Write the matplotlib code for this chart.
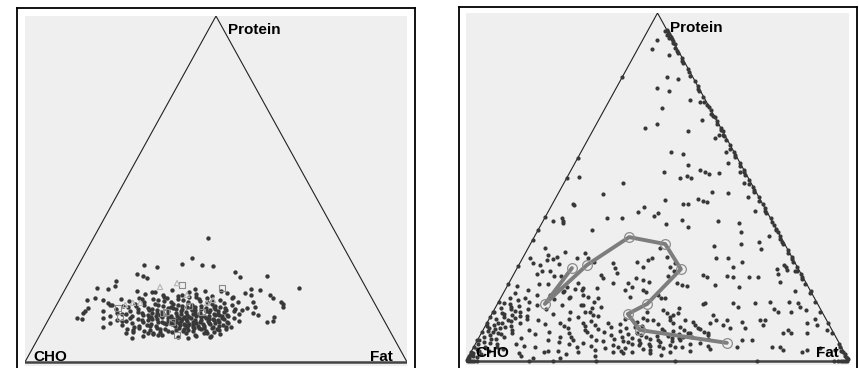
import numpy as np
import matplotlib.pyplot as plt

plt.rcParams['font.family'] = ['Liberation Sans', 'DejaVu Sans']

# ---------- left panel: meal compositions (protein %, fat %), CHO = rest ----------
left_pts = [
    # sparse outer points
    (35.8, 30.0), (30.1, 28.6), (28.0, 17.2), (27.5, 20.8), (28.3, 27.0), (28.0, 32.3),
    (27.7, 35.4), (25.4, 16.6), (24.9, 18.4), (24.3, 19.8), (26.0, 42.0), (24.6, 44.0),
    (24.9, 50.9), (21.4, 61.0), (23.4, 12.1), (22.0, 12.6), (21.4, 8.1), (21.1, 11.2),
    (18.5, 9.1), (17.9, 11.5), (17.1, 13.2), (16.5, 14.0), (17.9, 7.3), (15.6, 8.7),
    (14.7, 8.4), (14.2, 8.1), (12.7, 7.3), (12.4, 8.7), (10.1, 15.4), (6.9, 24.6),
    (8.4, 22.2), (9.2, 23.7), (8.4, 28.0), (8.4, 29.3), (6.9, 39.3), (7.2, 44.8),
    (20.8, 51.1), (21.1, 48.6), (19.4, 49.5), (19.9, 47.6), (19.4, 54.4), (18.5, 55.7),
    (17.3, 58.4), (16.8, 59.1), (15.9, 59.6), (13.0, 58.7), (11.8, 59.0), (11.6, 57.6),
    (13.6, 54.2), (14.2, 52.6), (17.3, 51.0), (15.9, 52.3), (15.6, 50.3), (15.0, 49.3),
    # band above the core
    (20.5, 19), (19.8, 21.5), (20.2, 24), (19.5, 26.5), (20.8, 28), (19.2, 30.5),
    (20.1, 33), (19.6, 35), (20.4, 37), (19.1, 39.5), (20.6, 41), (19.9, 43),
    (18.8, 45), (20.3, 23), (19.4, 31.5), (21.2, 34), (18.9, 27),
    (18.2, 16), (17.6, 18.5), (18.5, 20.5), (17.3, 22.5), (18.1, 24.5), (17.8, 26),
    (18.6, 28), (17.4, 29.5), (18.3, 31), (17.9, 32.5), (17.2, 34), (18.7, 35.5),
    (17.5, 37), (18.4, 38.5), (17.7, 40), (18.0, 42), (17.1, 43.5), (18.6, 45),
    (17.3, 47), (18.2, 21.5), (17.6, 27.5), (18.9, 33.5), (17.4, 39), (18.1, 36.5),
    # dense core
    (16.6, 14.5), (15.4, 16), (16.2, 17.5), (15.8, 19), (16.8, 20.5), (15.2, 22),
    (16.4, 23), (15.6, 24.5), (16.9, 25.5), (15.1, 27), (16.3, 28), (15.7, 29.5),
    (16.7, 30.5), (15.3, 32), (16.1, 33), (15.9, 34.5), (16.5, 35.5), (15.0, 37),
    (16.2, 38), (15.6, 39.5), (16.8, 40.5), (15.4, 42), (16.0, 43), (15.7, 44.5),
    (16.4, 46), (15.2, 47.5), (16.6, 26.5), (15.5, 31), (16.0, 36.5), (15.8, 41.5),
    (16.3, 21), (15.1, 45),
    (14.6, 13), (13.4, 15.5), (14.2, 17), (13.8, 18.5), (14.8, 20), (13.2, 21.5),
    (14.4, 22.5), (13.6, 24), (14.9, 25), (13.1, 26.5), (14.3, 27.5), (13.7, 29),
    (14.7, 30), (13.3, 31.5), (14.1, 32.5), (13.9, 34), (14.5, 35), (13.0, 36.5),
    (14.2, 37.5), (13.6, 39), (14.8, 40), (13.4, 41.5), (14.0, 42.5), (13.7, 44),
    (14.4, 45), (13.2, 46.5), (14.6, 47.5), (13.8, 49), (14.1, 23.5), (13.5, 28.5),
    (14.7, 33.5), (13.3, 38), (14.0, 43.5), (13.9, 19.5), (14.3, 26), (13.1, 35),
    (14.5, 41), (13.6, 46),
    (12.6, 14), (11.4, 16.5), (12.2, 18), (11.8, 19.5), (12.8, 21), (11.2, 22.5),
    (12.4, 23.5), (11.6, 25), (12.9, 26), (11.1, 27.5), (12.3, 28.5), (11.7, 30),
    (12.7, 31), (11.3, 32.5), (12.1, 33.5), (11.9, 35), (12.5, 36), (11.0, 37.5),
    (12.2, 38.5), (11.6, 40), (12.8, 41), (11.4, 42.5), (12.0, 43.5), (11.7, 45),
    (12.4, 46), (11.2, 47.5), (12.6, 48.5), (11.8, 50), (12.1, 24.5), (11.5, 29),
    (12.7, 34), (11.3, 39), (12.0, 44.5), (11.9, 20.5), (12.3, 27), (11.1, 36),
    (12.5, 42), (11.6, 47), (12.9, 31.5), (11.4, 34.5), (12.2, 40),
    (10.6, 20), (9.4, 22), (10.2, 23.5), (9.8, 25), (10.8, 26.5), (9.2, 28),
    (10.4, 29), (9.6, 30.5), (10.9, 31.5), (9.1, 33), (10.3, 34), (9.7, 35.5),
    (10.7, 36.5), (9.3, 38), (10.1, 39), (9.9, 40.5), (10.5, 41.5), (9.0, 43),
    (10.2, 44), (9.6, 45.5), (10.8, 46.5), (9.4, 48), (10.0, 49), (10.4, 27.5),
    (9.5, 32), (10.6, 37.5), (9.8, 42), (10.1, 47.5), (9.3, 35), (10.5, 24.5),
    (8.6, 24), (7.6, 27), (8.2, 29.5), (7.8, 32), (8.8, 34), (7.2, 36.5),
    (8.4, 38), (7.9, 40.5), (8.5, 42.5), (7.4, 45), (8.1, 47), (7.7, 31),
    (8.3, 43.5), (8.9, 37), (7.5, 41),
    # extra points filling the darkest part of the core
    (15.9, 30.2), (15.2, 33.6), (14.9, 36.3), (15.4, 38.4), (15.0, 40.9), (14.8, 43.2),
    (13.8, 30.4), (13.3, 33.1), (13.6, 35.6), (13.9, 37.0), (13.2, 40.2), (13.5, 42.9),
    (12.9, 29.4), (12.5, 32.6), (12.8, 37.1), (12.9, 39.6), (12.3, 43.0), (12.7, 45.2),
    (11.9, 31.4), (11.5, 33.8), (11.8, 36.6), (11.6, 38.2), (11.1, 41.1), (11.9, 42.0),
    (10.9, 33.0), (10.6, 35.2), (10.8, 38.6), (10.3, 40.1), (10.9, 43.1), (10.4, 45.6),
    (9.9, 29.6), (9.5, 36.9), (9.9, 39.4), (9.4, 41.3), (9.7, 44.1), (9.2, 46.3),
    (14.4, 28.7), (13.2, 27.8), (12.0, 26.3), (11.2, 30.8), (16.4, 31.8), (16.2, 41.6),
    (8.7, 31.0), (8.9, 39.4), (8.6, 45.2), (9.1, 26.6), (15.6, 35.6), (14.2, 38.8),
    (12.4, 35.0), (13.4, 44.9), (11.4, 44.0), (10.2, 37.3), (13.7, 25.3), (15.3, 25.6),
]
left_squares = [(13.0, 18.4), (14.2, 29.0), (11.6, 32.7), (7.8, 35.9), (16.2, 34.8),
                (14.5, 39.1), (21.4, 40.9), (22.3, 30.0), (15.6, 16.5), (14.5, 29.7)]
left_triangles = [(21.7, 24.5), (22.8, 28.4), (17.1, 19.7), (17.1, 21.6), (17.1, 39.1),
                  (19.4, 32.7), (17.9, 40.3), (16.5, 18.0)]

# ---------- right panel ----------
right_edge = [  # points on the protein-fat side (almost no CHO)
    (95, 5), (94.5, 5.5), (94, 6), (93.5, 6.5), (93, 7), (92.5, 7.5), (92, 8), (91, 9),
    (90, 9.5), (88.5, 11), (87, 13), (85.5, 14), (84, 16), (82, 17.5), (80.5, 19.5),
    (79, 21), (77.5, 22), (76, 24), (74.5, 25), (73, 27), (72, 28), (71, 28.5), (70, 30),
    (69, 31), (68, 31.5), (67, 33), (66, 34), (65, 34.5), (63.5, 36), (62, 38),
    (61, 38.5), (60, 40), (58.5, 41), (57, 43), (56, 43.5), (55, 45), (53.5, 46),
    (52, 48), (51, 48.5), (50, 50), (48.5, 51), (47, 53), (46, 53.5), (45, 55),
    (44, 56), (42.5, 57), (41, 59), (40, 60), (39, 61), (38, 62), (37, 63), (36, 64),
    (35, 64.5), (33.5, 66), (32, 68), (31, 68.5), (30, 70), (28.5, 71), (27, 73),
    (26, 73.5), (25, 75), (23.5, 76), (22, 77.5), (20, 80), (17, 82.5), (14, 85.5),
    (11, 89), (8, 91.5), (5, 95), (3, 96.5), (2, 98), (1, 99), (0.5, 99.5),
    (88, 9), (75, 21), (64, 33), (57, 40), (47, 50), (43, 54), (36, 61), (27, 70),
    (20, 76), (12, 85),
    (94.8, 4.6), (93.8, 5.7), (92.8, 6.6), (91.5, 8.2), (89.2, 10.5), (86.2, 13.4),
    (83, 16.7), (78.2, 21.4), (73.6, 26.1), (70.5, 29.2), (66.5, 33.2), (64.6, 35.1),
    (59.2, 40.5), (54.2, 45.5), (49.2, 50.5), (43.2, 56.5), (37.5, 62.2), (34.2, 65.5),
    (29.2, 70.5), (24.2, 75.5), (1.5, 98.3), (0.8, 99.0), (2.5, 97.2), (4, 95.6),
]
left_edge_protein = [81.6, 58.3, 52.6, 41.4, 37.6, 34.8, 27.3, 22.1, 17, 14, 12.6,
                     10.9, 8.3, 6, 4, 2.6, 1.5, 0.8, 0.3]
bottom_edge_fat = [16.4, 22.7, 33.9, 54.6, 76, 96, 97, 98, 98.5, 99, 99.5,
                   0.5, 1, 1.5, 2, 3]
right_pts = [
    # upper interior
    (92.3, 3.8), (89.7, 3.7), (81.6, 11.7), (81.0, 14.9), (78.5, 10.6), (77.6, 14.2),
    (72.7, 14.8), (67.0, 13.2), (68.1, 15.8), (66.1, 25.0), (74.4, 23.9), (69.3, 27.0),
    (65.0, 33.6), (60.1, 37.8), (60.1, 23.5), (59.5, 27.0), (56.3, 29.8), (54.3, 24.6),
    (52.6, 29.6), (53.2, 31.1), (52.6, 32.4), (54.9, 33.7), (54.3, 35.3), (53.7, 36.6),
    (54.0, 39.1), (54.3, 44.4), (51.2, 47.0), (51.2, 15.4), (48.0, 11.8), (44.8, 5.8),
    (52.9, 3.0), (46.3, 28.8), (45.1, 34.1), (45.1, 35.4), (46.6, 37.3), (46.0, 38.9),
    (45.7, 40.0), (48.6, 39.9), (48.3, 44.2), (44.3, 24.3), (42.8, 23.5), (41.7, 28.2),
    (42.5, 28.8), (41.1, 20.2), (41.1, 16.3), (40.2, 2.6), (41.1, 4.5), (40.2, 5.2),
    (39.7, 5.4), (39.4, 32.5), (40.5, 36.2), (38.5, 38.8), (40.2, 45.7), (39.7, 51.4),
    (37.1, 53.2), (33.1, 48.2), (33.6, 55.0), (34.2, 59.4), (32.2, 60.9), (29.6, 50.5),
    (29.6, 53.6), (28.5, 57.9), (27.0, 56.2), (45.1, 5.4), (37.6, 14.1),
    # middle interior
    (32.5, 34.4), (29.9, 37.5), (29.6, 33.8), (29.0, 33.0), (28.5, 30.4), (27.0, 32.7),
    (28.2, 24.3), (26.7, 25.6), (23.9, 23.9), (31.0, 15.6), (29.6, 17.1), (28.5, 19.2),
    (29.6, 14.2), (31.3, 10.2), (29.9, 8.9), (29.3, 8.1), (27.9, 10.4), (30.5, 6.2),
    (29.0, 6.6), (32.5, 4.4), (27.6, 5.5), (25.0, 6.0), (25.9, 6.9), (28.2, 3.4),
    (29.6, 1.9), (25.9, 9.0), (24.4, 10.8), (24.4, 12.6), (22.1, 10.4), (19.8, 15.4),
    (21.3, 15.8), (20.7, 18.2), (20.4, 20.1), (22.4, 18.0), (19.0, 21.0), (18.4, 22.7),
    (21.0, 23.7), (18.1, 25.5), (15.2, 25.3), (13.2, 26.6), (24.7, 22.9), (22.4, 27.2),
    (25.3, 26.8), (22.4, 31.1), (21.3, 32.7), (20.4, 31.3), (18.4, 33.6), (23.9, 32.4),
    (23.3, 34.6), (22.7, 36.5), (20.4, 36.0), (19.8, 37.1), (19.0, 40.6), (18.1, 41.9),
    (18.1, 43.0), (24.4, 40.5), (22.4, 43.9), (21.8, 45.5), (21.6, 46.9), (27.0, 39.8),
    (28.2, 40.5), (25.9, 41.4), (24.7, 49.6), (24.1, 50.9), (21.8, 54.1), (24.4, 55.9),
    (24.1, 57.7), (21.3, 60.7), (24.1, 61.9), (24.1, 64.2), (26.4, 68.0), (25.0, 69.0),
    (22.7, 70.7), (27.6, 69.2), (26.2, 70.7), (25.9, 73.0), (17.0, 70.9), (14.9, 73.0),
    (14.1, 74.5), (17.0, 75.8), (14.1, 77.9), (16.7, 78.4), (15.5, 79.5), (14.7, 81.5),
    (19.5, 80.1), (10.9, 83.6), (10.3, 86.5), (8.9, 79.7), (8.0, 80.9), (8.0, 78.8),
    (8.0, 85.0), (8.9, 89.8), (10.3, 72.4), (11.8, 70.9), (11.8, 72.2), (16.7, 67.1),
    (16.7, 61.4), (15.5, 63.3), (11.8, 62.2), (9.5, 64.2), (11.2, 66.5), (9.5, 68.1),
    (6.0, 69.1), (6.0, 71.7), (4.0, 68.8), (16.4, 53.7), (16.7, 54.1), (13.2, 57.9),
    (11.8, 59.4), (10.9, 58.3), (10.3, 61.9), (8.0, 59.2), (9.5, 55.8), (11.2, 53.7),
    (10.3, 54.6), (8.0, 54.5), (6.9, 53.2), (11.8, 51.3), (13.2, 47.4), (15.2, 48.0),
    (13.8, 48.5), (14.7, 44.0), (13.8, 45.6), (11.8, 47.4), (14.1, 40.2), (12.4, 40.0),
    (11.8, 41.4), (4.0, 77.9), (4.0, 80.0), (3.2, 81.2), (2.6, 86.4), (3.2, 87.4),
    (3.7, 90.6), (3.2, 94.7), (2.3, 12.7),
    # CHO corner cluster
    (0.8, 0.5), (1.5, 1.2), (2.3, 0.6), (2.8, 2), (3.5, 1), (4.1, 2.8), (4.8, 0.8),
    (5.5, 2), (6.2, 3.5), (6.8, 1.2), (7.4, 2.6), (8.1, 4.2), (8.6, 1.5), (9.2, 3),
    (9.8, 5.2), (10.3, 2.2), (10.9, 4), (11.5, 6.1), (12, 1.8), (12.6, 3.6), (13.1, 5.4),
    (13.7, 2.5), (14.2, 7), (14.8, 4.3), (15.3, 1.6), (15.9, 6), (16.4, 3.2), (17, 8),
    (17.5, 4.8), (18.1, 2.4), (3, 4.5), (5, 5.5), (7, 6.5), (9, 7.5), (11, 8.5),
    (13, 9.5), (15, 8.8), (6, 0.3), (10, 0.5), (14, 0.4), (2, 3), (4, 6), (8, 8),
    (12, 10), (16, 10.5), (18, 6.5), (19.5, 3), (20.5, 6), (1.2, 2.4), (3.8, 3.2),
    (6.4, 4.6), (9.6, 1.2), (12.8, 7.6), (16.8, 1.4), (19, 9), (21.5, 2.5), (22, 8),
    (10.8, 2.9), (11.9, 4.9), (13.4, 3.1), (12.3, 6.6), (14.4, 5.6), (9.5, 4.2),
    (8.3, 2.8), (15.6, 3.9), (10.1, 6.6), (7.7, 5.2), (5.2, 3.6), (1.8, 0.3),
    # lower-left, medium density
    (3.5, 8), (5, 10.5), (4.2, 13), (6.5, 11), (7.8, 14), (9, 12), (10.5, 15.5),
    (11.8, 13), (13.5, 16), (15, 13.5), (16.2, 17), (17.8, 14), (19, 12.5), (18.5, 18),
    (14.2, 20), (11, 19), (8.3, 17.5), (6, 18.5), (4, 16), (2.5, 19), (5.5, 21.5),
    (9.5, 22), (12.5, 23), (16, 22), (20, 15.5), (21, 20), (7, 24), (3, 22.5),
    (1.5, 13.5), (1, 17), (2, 25), (10, 26), (14, 25.5),
    (18, 18), (16, 22.5), (14, 24), (12, 21), (10, 20.5), (8, 23), (6, 25), (4, 27),
    (2.5, 28), (15.5, 27.5), (13, 28), (11, 25), (7, 21), (5, 24.5), (17, 25),
    (9, 26.5), (3, 20), (1, 24),
    # dense bottom band
    (11.5, 27), (10.2, 28.5), (9.1, 30), (8.4, 27.5), (7.2, 29), (6.1, 31), (5.3, 28),
    (4.2, 30.5), (3.1, 32), (11, 31.5), (9.7, 33), (8.3, 32), (7.5, 34), (6.4, 35.5),
    (5.6, 33), (4.7, 36), (3.6, 34.5), (2.5, 37), (10.6, 35), (9.4, 37), (8.6, 36),
    (7.8, 38.5), (6.7, 40), (5.8, 38), (4.9, 41), (3.8, 39.5), (2.7, 42), (11.2, 39),
    (10.1, 41), (8.9, 42), (8.1, 40.5), (7, 43.5), (6.2, 45), (5.1, 43), (4.3, 46),
    (3.4, 44.5), (2.3, 47), (10.5, 45), (9.3, 46.5), (8.5, 47.5), (7.3, 49),
    (6.6, 50.5), (5.5, 48), (4.6, 51), (3.7, 49.5), (2.6, 52), (9.8, 51), (8.8, 52.5),
    (7.9, 54), (6.9, 55.5), (5.9, 53), (4.8, 56), (4, 54.5), (3, 57), (9.1, 56.5),
    (8.2, 58), (7.4, 59.5), (6.3, 60), (5.2, 58.5), (4.4, 61), (3.3, 62), (11.8, 43),
    (10.9, 48.5), (12.2, 35.5), (12.5, 47), (2.2, 40), (1.8, 50), (1.5, 33),
    (6.9, 37.2), (5.4, 39.6), (4.5, 42.8), (7.6, 41.8), (6.0, 47.0), (5.0, 45.4),
    (7.2, 46.2), (6.1, 42.1), (4.2, 48.3), (5.7, 50.9), (3.9, 52.6), (6.5, 52.4),
    (7.7, 51.8), (8.6, 49.7), (3.2, 46.4), (2.9, 39.1), (4.1, 37.6), (9.8, 39.2),
]
# mean trajectory (protein %, fat %)
path_protein = [26.7, 16.4, 27.6, 35.6, 33.6, 26.4, 16.4, 13.5, 8.9, 5.2]
path_fat = [14.3, 12.4, 17.8, 24.8, 35.2, 42.9, 39.1, 35.5, 40.9, 65.5]

labels = ['CHO', 'Protein', 'Fat']
dot_color = '#383838'


def to_xy(protein, fat):
    p = np.asarray(protein, dtype=float) / 100
    f = np.asarray(fat, dtype=float) / 100
    return f + p / 2, p


def panel(frame_rect, inner_rect, ybot, label_pos):
    frame = fig.add_axes(frame_rect)
    frame.set_xticks([])
    frame.set_yticks([])
    for s in frame.spines.values():
        s.set_linewidth(1.3)
    ax = fig.add_axes(inner_rect)
    ax.set_facecolor('#efefef')
    ax.set_xlim(0, 1)
    ax.set_ylim(ybot, 1)
    ax.set_xticks([])
    ax.set_yticks([])
    for s in ax.spines.values():
        s.set_visible(False)
    ax.plot([0, 0.5, 1], [0, 1, 0], color='#222222', lw=0.8)
    ax.plot([0, 1], [0, 0], color='#444444', lw=1.8)
    (cx, cy), (px, py), (fx, fy) = label_pos
    kw = dict(fontsize=11, fontweight='bold', va='baseline', zorder=5)
    ax.text(cx, cy, labels[0], ha='left', **kw)
    ax.text(px, py, labels[1], ha='left', **kw)
    ax.text(fx, fy, labels[2], ha='right', **kw)
    return ax


fig = plt.figure(figsize=(8.59, 3.68), dpi=100)

# left panel
ax1 = panel([0.0198, -0.011, 0.4633, 0.989], [0.0291, 0.0054, 0.4447, 0.951],
            -0.0116, [(0.021, 0.003), (0.531, 0.948), (0.963, 0.003)])
lp = [p for p, f in left_pts]
lf = [f for p, f in left_pts]
x, y = to_xy(lp, lf)
ax1.scatter(x, y, s=10, color=dot_color, linewidths=0, zorder=3)
x, y = to_xy([p for p, f in left_squares], [f for p, f in left_squares])
ax1.scatter(x, y, s=16, marker='s', facecolors='none', edgecolors='#8a8a8a',
            linewidths=0.8, zorder=4)
x, y = to_xy([p for p, f in left_triangles], [f for p, f in left_triangles])
ax1.scatter(x, y, s=14, marker='^', facecolors='none', edgecolors='#b5b5b5',
            linewidths=0.8, zorder=4)

# right panel
ax2 = panel([0.5343, -0.011, 0.4633, 0.992], [0.5425, 0.0082, 0.4459, 0.9565],
            -0.0115, [(0.0235, 0.0115), (0.533, 0.945), (0.974, 0.0115)])
rp = [p for p, f in right_pts] + [p for p, f in right_edge] + left_edge_protein \
    + [0] * len(bottom_edge_fat)
rf = [f for p, f in right_pts] + [f for p, f in right_edge] + [0] * len(left_edge_protein) \
    + bottom_edge_fat
x, y = to_xy(rp, rf)
ax2.scatter(x, y, s=9, color=dot_color, linewidths=0, zorder=3, clip_on=False)
x, y = to_xy(path_protein, path_fat)
ax2.plot(x, y, color='#7d7d7d', lw=2.8, zorder=4, solid_capstyle='round')
ax2.plot(x, y, ls='none', marker='o', ms=7, mfc='none', mec='#8c8c8c', mew=0.9, zorder=4)

fig.savefig('out.png', dpi=100)
